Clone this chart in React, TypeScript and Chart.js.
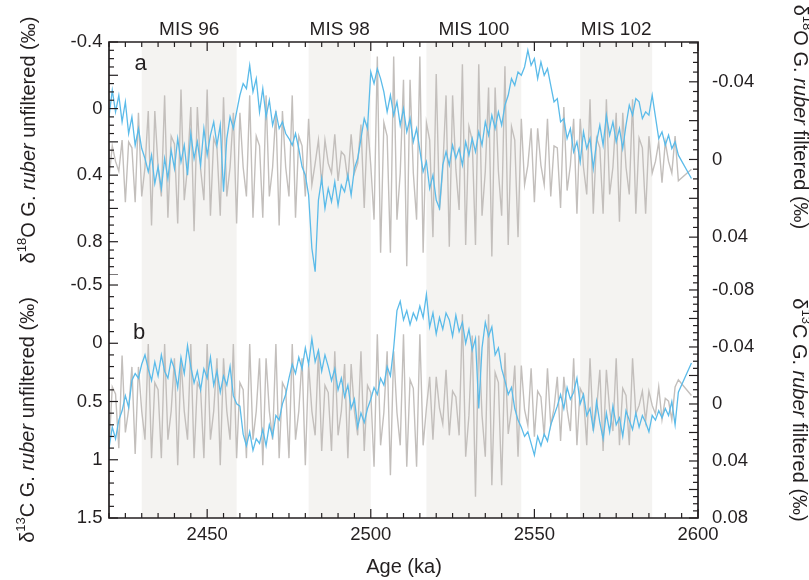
import React, { useEffect, useRef } from "react";
import { Chart, registerables } from "chart.js";

Chart.register(...registerables);

// ---------------- data ----------------
const AGE_KA = [
  2420, 2421, 2422, 2423, 2424, 2425, 2426, 2427, 2428, 2429,
  2430, 2431, 2432, 2433, 2434, 2435, 2436, 2437, 2438, 2439,
  2440, 2441, 2442, 2443, 2444, 2445, 2446, 2447, 2448, 2449,
  2450, 2451, 2452, 2453, 2454, 2455, 2456, 2457, 2458, 2459,
  2460, 2461, 2462, 2463, 2464, 2465, 2466, 2467, 2468, 2469,
  2470, 2471, 2472, 2473, 2474, 2475, 2476, 2477, 2478, 2479,
  2480, 2481, 2482, 2483, 2484, 2485, 2486, 2487, 2488, 2489,
  2490, 2491, 2492, 2493, 2494, 2495, 2496, 2497, 2498, 2499,
  2500, 2501, 2502, 2503, 2504, 2505, 2506, 2507, 2508, 2509,
  2510, 2511, 2512, 2513, 2514, 2515, 2516, 2517, 2518, 2519,
  2520, 2521, 2522, 2523, 2524, 2525, 2526, 2527, 2528, 2529,
  2530, 2531, 2532, 2533, 2534, 2535, 2536, 2537, 2538, 2539,
  2540, 2541, 2542, 2543, 2544, 2545, 2546, 2547, 2548, 2549,
  2550, 2551, 2552, 2553, 2554, 2555, 2556, 2557, 2558, 2559,
  2560, 2561, 2562, 2563, 2564, 2565, 2566, 2567, 2568, 2569,
  2570, 2571, 2572, 2573, 2574, 2575, 2576, 2577, 2578, 2579,
  2580, 2581, 2582, 2583, 2584, 2585, 2586, 2587, 2588, 2589,
  2590, 2591, 2592, 2593, 2594,
  2598,
];

// δ18O G. ruber unfiltered (‰)
const D18O_UNFILTERED = [
  0.05, -0.11, 0.02, -0.08, 0.08, -0.04, 0.15, 0.05, 0.22, 0.12,
  0.24, 0.3, 0.38, 0.28, 0.45, 0.35, 0.48, 0.3, 0.42, 0.25,
  0.36, 0.18, 0.32, 0.22, 0.4, 0.15, 0.3, 0.2, 0.34, 0.12,
  0.28, 0.16, 0.08, 0.22, 0.1, 0.5, 0.18, 0.05, 0.12, 0.02,
  -0.08, -0.15, -0.12, -0.26, -0.1, -0.18, 0.02, -0.12, 0.05, -0.05,
  0.1, 0.02, 0.12, 0.08, 0.15, 0.18, 0.22, 0.15, 0.24, 0.35,
  0.4, 0.52, 0.84, 0.98, 0.55, 0.42, 0.6, 0.48, 0.56, 0.44,
  0.58, 0.46, 0.5, 0.4, 0.52, 0.36, 0.3, 0.18, 0.06, 0.12,
  -0.22, -0.15, -0.24, -0.18, -0.1, 0.02, -0.08, 0.04, -0.04, 0.1,
  0.0, 0.14, 0.06, 0.2, 0.12, 0.25, 0.38, 0.32, 0.48, 0.4,
  0.55, 0.6, 0.34, 0.26, 0.34, 0.22, 0.3, 0.24, 0.34, 0.2,
  0.28, 0.18, 0.26, 0.14, 0.22, 0.08, 0.16, 0.04, 0.12, 0.02,
  0.1, -0.02, -0.08, -0.18, -0.14, -0.22, -0.2, -0.25, -0.35, -0.26,
  -0.3, -0.18, -0.28, -0.2, -0.24, -0.14, -0.04, -0.06, 0.08, 0.06,
  0.18, 0.12, 0.26, 0.2, 0.32, 0.14, 0.24, 0.18, 0.36, 0.2,
  0.1, 0.22, 0.04, 0.16, 0.08, 0.2, 0.12, 0.24, 0.1, -0.02,
  0.04, -0.06, -0.04, 0.06, 0.02, 0.04, -0.08, 0.05, 0.18, 0.14,
  0.22, 0.16, 0.24, 0.2, 0.28,
  0.42,
];

// δ18O G. ruber filtered (‰)
const D18O_FILTERED = [
  0.01, -0.007, 0.001, 0.006, -0.01, 0.022, -0.009, -0.006, 0.022, -0.024,
  0.019, 0.004, -0.025, 0.034, -0.025, 0.004, 0.019, -0.033, 0.03, -0.012,
  -0.008, 0.033, -0.036, 0.021, 0.004, -0.027, 0.037, -0.027, 0.005, 0.021,
  -0.036, 0.029, -0.011, -0.006, 0.029, -0.032, 0.019, 0.004, -0.024, 0.033,
  -0.024, 0.004, 0.019, -0.033, 0.03, -0.012, -0.007, 0.03, -0.033, 0.019,
  0.004, -0.025, 0.034, -0.025, 0.004, 0.019, -0.033, 0.03, -0.012, -0.007,
  0.019, -0.021, 0.013, 0.002, -0.01, 0.013, -0.01, 0.002, 0.007, -0.013,
  0.011, -0.004, -0.002, 0.011, -0.013, 0.007, 0.002, -0.018, 0.025, -0.019,
  0.003, 0.031, -0.053, 0.048, -0.019, -0.012, 0.048, -0.053, 0.031, 0.007,
  -0.041, 0.055, -0.041, 0.007, 0.031, -0.053, 0.048, -0.019, -0.01, 0.04,
  -0.044, 0.026, 0.005, -0.033, 0.045, -0.033, 0.005, 0.026, -0.049, 0.044,
  -0.017, -0.01, 0.044, -0.049, 0.029, 0.006, -0.037, 0.05, -0.037, 0.006,
  0.029, -0.048, 0.044, -0.017, -0.01, 0.04, -0.021, 0.013, 0.003, -0.016,
  0.022, -0.016, 0.003, 0.013, -0.021, 0.019, -0.007, -0.006, 0.025, -0.027,
  0.016, 0.003, -0.021, 0.028, -0.021, 0.004, 0.018, -0.031, 0.028, -0.011,
  -0.006, 0.028, -0.031, 0.018, 0.004, -0.024, 0.032, -0.024, 0.004, 0.018,
  -0.031, 0.028, -0.011, -0.006, 0.028, -0.012, 0.007, 0.001, -0.009, 0.012,
  -0.009, 0.001, 0.007, -0.012, 0.011,
  0.005,
];

// δ13C G. ruber unfiltered (‰)
const D13C_UNFILTERED = [
  0.9, 0.72, 0.82, 0.66, 0.58, 0.45, 0.55, 0.32, 0.26, 0.3,
  0.18, 0.1, 0.22, 0.32, 0.16, 0.28, 0.1, 0.24, 0.3, 0.14,
  0.22, 0.38, 0.12, 0.26, 0.02, 0.2, 0.34, 0.24, 0.4, 0.22,
  0.3, 0.12, 0.36, 0.24, 0.42, 0.28, 0.36, 0.2, 0.45, 0.52,
  0.54, 0.78, 0.88, 0.76, 0.92, 0.82, 0.86, 0.74, 0.88, 0.7,
  0.8, 0.62, 0.66, 0.52, 0.44, 0.3, 0.18, 0.26, 0.12, 0.22,
  0.04, 0.18, -0.04, 0.16, 0.06, 0.24, 0.1, 0.2, 0.32, 0.22,
  0.4, 0.3, 0.46, 0.36, 0.56, 0.48, 0.72, 0.6, 0.68, 0.56,
  0.48, 0.38, 0.44, 0.3, 0.36, 0.2, 0.28, 0.04, -0.28, -0.36,
  -0.2, -0.28, -0.16, -0.26, -0.2, -0.32, -0.22, -0.42, -0.14, -0.26,
  -0.08, -0.22, -0.12, -0.26, -0.2, -0.06, -0.24, -0.1, -0.18, 0.0,
  -0.12, 0.06, -0.04, 0.56, 0.04, -0.18, -0.06, -0.14, 0.1, 0.04,
  0.22, 0.32, 0.44, 0.38, 0.56, 0.66, 0.72, 0.8, 0.76, 0.86,
  0.96, 0.8, 0.88, 0.78, 0.84, 0.7, 0.62, 0.54, 0.44, 0.56,
  0.38, 0.48, 0.42, 0.3, 0.52, 0.44, 0.62, 0.56, 0.74, 0.5,
  0.68, 0.82, 0.6, 0.76, 0.54, 0.7, 0.64, 0.8, 0.58, 0.66,
  0.74, 0.6, 0.72, 0.62, 0.68, 0.76, 0.62, 0.66, 0.58, 0.64,
  0.56, 0.62, 0.5, 0.7, 0.42,
  0.17,
];

// δ13C G. ruber filtered (‰)
const D13C_FILTERED = [
  0.031, -0.012, -0.007, 0.031, -0.034, 0.02, 0.004, -0.026, 0.035, -0.026,
  0.005, 0.025, -0.042, 0.038, -0.015, -0.01, 0.038, -0.042, 0.025, 0.005,
  -0.032, 0.043, -0.032, 0.005, 0.025, -0.042, 0.038, -0.015, -0.01, 0.038,
  -0.042, 0.025, 0.005, -0.032, 0.043, -0.032, 0.005, 0.025, -0.042, 0.038,
  -0.015, -0.01, 0.038, -0.042, 0.025, 0.005, -0.032, 0.043, -0.032, 0.005,
  0.025, -0.042, 0.038, -0.015, -0.01, 0.038, -0.042, 0.025, 0.005, -0.032,
  0.043, -0.028, 0.005, 0.022, -0.037, 0.033, -0.013, -0.008, 0.033, -0.037,
  0.022, 0.005, -0.028, 0.038, -0.028, 0.005, 0.022, -0.037, 0.033, -0.013,
  -0.008, 0.044, -0.049, 0.029, 0.006, -0.037, 0.05, -0.037, 0.006, 0.029,
  -0.049, 0.044, -0.017, -0.011, 0.044, -0.049, 0.029, 0.003, -0.019, 0.025,
  -0.019, 0.003, 0.014, -0.024, 0.022, -0.009, -0.005, 0.022, -0.063, 0.037,
  0.008, -0.048, 0.065, -0.048, 0.008, 0.037, -0.063, 0.057, -0.022, -0.015,
  0.057, -0.036, 0.021, 0.004, -0.027, 0.037, -0.027, 0.004, 0.015, -0.025,
  0.023, -0.009, -0.005, 0.023, -0.025, 0.015, 0.003, -0.019, 0.026, -0.019,
  0.004, 0.019, -0.032, 0.029, -0.011, -0.006, 0.029, -0.032, 0.019, 0.004,
  -0.024, 0.033, -0.024, 0.004, 0.019, -0.032, 0.029, -0.011, -0.006, 0.029,
  -0.032, 0.007, 0.001, -0.009, 0.012, -0.009, 0.001, 0.007, -0.012, 0.011,
  -0.004, -0.002, 0.011, -0.012, -0.017,
  -0.006,
];

// Marine isotope stage bands (ka)
const MIS_NAMES = ["MIS 96", "MIS 98", "MIS 100", "MIS 102"];
const MIS_START = [2430, 2481, 2517, 2564];
const MIS_END = [2459, 2500, 2546, 2586];

// axis ranges and tick labels
const AGE_MIN = 2420;
const AGE_MAX = 2600;
const AGE_TICKS = [2450, 2500, 2550, 2600];
const D18O_U_RANGE = [-0.4, 1.0];
const D18O_U_TICKS = [-0.4, 0, 0.4, 0.8];
const D18O_F_RANGE = [-0.0605, 0.0595];
const D18O_F_TICKS = [-0.04, 0, 0.04];
const D13C_U_RANGE = [-0.586, 1.5];
const D13C_U_TICKS = [-0.5, 0, 0.5, 1, 1.5];
const D13C_F_RANGE = [-0.0905, 0.08];
const D13C_F_TICKS = [-0.08, -0.04, 0, 0.04, 0.08];

// ---------------- style ----------------
const FONT = '"Liberation Sans", Arial, Helvetica, sans-serif';
const INK = "#231f20";
const BLUE = "#5bbbe9";
const GRAY = "#c3bfbc";
const BAND = "#f4f3f1";
const TICK_FONT = 18.5;
const TITLE_FONT = 20;

type Seg = { t: string; style?: string; size?: number; dy?: number };

function titleSegs(iso: string, elem: string, kind: string): Seg[] {
  return [
    { t: "δ" },
    { t: iso, size: 13, dy: -7 },
    { t: elem + " G. " },
    { t: "ruber", style: "italic" },
    { t: " " + kind + " (‰)" },
  ];
}

function drawRich(ctx: CanvasRenderingContext2D, segs: Seg[], cx: number, cy: number, angle: number) {
  ctx.save();
  ctx.translate(cx, cy);
  ctx.rotate(angle);
  ctx.fillStyle = INK;
  ctx.textBaseline = "middle";
  ctx.textAlign = "left";
  const fontOf = (s: Seg) => `${s.style || "normal"} ${s.size || TITLE_FONT}px ${FONT}`;
  let total = 0;
  for (const s of segs) {
    ctx.font = fontOf(s);
    total += ctx.measureText(s.t).width;
  }
  let x = -total / 2;
  for (const s of segs) {
    ctx.font = fontOf(s);
    ctx.fillText(s.t, x, s.dy || 0);
    x += ctx.measureText(s.t).width;
  }
  ctx.restore();
}

type TickSpec = { id: string; side: "left" | "right" | "top" | "bottom"; step: number; major: number };

function drawAxisTicks(chart: any, specs: TickSpec[]) {
  const ctx = chart.ctx as CanvasRenderingContext2D;
  const a = chart.chartArea;
  ctx.save();
  ctx.strokeStyle = INK;
  ctx.lineWidth = 1.2;
  for (const sp of specs) {
    const sc = chart.scales[sp.id];
    const lo = Math.min(sc.min, sc.max);
    const hi = Math.max(sc.min, sc.max);
    const k0 = Math.ceil(lo / sp.step - 1e-6);
    const k1 = Math.floor(hi / sp.step + 1e-6);
    for (let k = k0; k <= k1; k++) {
      const p = sc.getPixelForValue(k * sp.step);
      const isMajor = ((k % sp.major) + sp.major) % sp.major === 0;
      const len = isMajor ? 9 : 5;
      ctx.beginPath();
      if (sp.side === "left") {
        ctx.moveTo(a.left, p);
        ctx.lineTo(a.left + len, p);
      } else if (sp.side === "right") {
        ctx.moveTo(a.right, p);
        ctx.lineTo(a.right - len, p);
      } else if (sp.side === "top") {
        ctx.moveTo(p, a.top);
        ctx.lineTo(p, a.top + len);
      } else {
        ctx.moveTo(p, a.bottom);
        ctx.lineTo(p, a.bottom - len);
      }
      ctx.stroke();
    }
  }
  ctx.lineWidth = 1.7;
  ctx.lineCap = "square";
  ctx.beginPath();
  ctx.moveTo(a.left, a.top);
  ctx.lineTo(a.left, a.bottom);
  ctx.moveTo(a.right, a.top);
  ctx.lineTo(a.right, a.bottom);
  if (specs.some((s) => s.side === "top")) {
    ctx.moveTo(a.left, a.top);
    ctx.lineTo(a.right, a.top);
  }
  if (specs.some((s) => s.side === "bottom")) {
    ctx.moveTo(a.left, a.bottom);
    ctx.lineTo(a.right, a.bottom);
  }
  ctx.stroke();
  ctx.restore();
}

function bandsPlugin(id: string) {
  return {
    id,
    beforeDatasetsDraw(chart: any) {
      const { ctx, chartArea: a } = chart;
      const x = chart.scales.x;
      ctx.save();
      ctx.fillStyle = BAND;
      for (let i = 0; i < MIS_START.length; i++) {
        const x0 = x.getPixelForValue(MIS_START[i]);
        const x1 = x.getPixelForValue(MIS_END[i]);
        ctx.fillRect(x0, a.top, x1 - x0, a.bottom - a.top);
      }
      ctx.restore();
    },
  };
}

function yAxis(position: string, range: number[], ticks: number[], width: number, padding: number) {
  return {
    type: "linear",
    position,
    reverse: true,
    min: range[0],
    max: range[1],
    afterBuildTicks: (s: any) => {
      s.ticks = ticks.map((v) => ({ value: v }));
    },
    ticks: {
      font: { family: FONT, size: TICK_FONT },
      color: INK,
      padding,
      callback: (v: any) => String(v),
    },
    grid: { drawOnChartArea: false, drawTicks: false },
    border: { display: false },
    afterFit: (s: any) => {
      s.width = width;
      s.paddingTop = 0;
      s.paddingBottom = 0;
    },
  };
}

function pts(values: number[]) {
  return AGE_KA.map((a, i) => ({ x: a, y: values[i] }));
}

function lineDs(values: number[], color: string, axis: string, width: number) {
  return {
    data: pts(values),
    borderColor: color,
    borderWidth: width,
    pointRadius: 0,
    tension: 0,
    fill: false,
    yAxisID: axis,
  };
}

const LEFT_W = 109;
const RIGHT_W = 111;

function topConfig(): any {
  return {
    type: "line",
    data: {
      datasets: [
        lineDs(D18O_UNFILTERED, BLUE, "yL", 1.3),
        lineDs(D18O_FILTERED, GRAY, "yR", 1.4),
      ],
    },
    options: {
      responsive: false,
      animation: false,
      layout: { padding: { top: 42, bottom: 0, left: 0, right: 0 } },
      plugins: { legend: { display: false }, tooltip: { enabled: false } },
      scales: {
        x: { type: "linear", min: AGE_MIN, max: AGE_MAX, display: false },
        yL: yAxis("left", D18O_U_RANGE, D18O_U_TICKS, LEFT_W, 6.5),
        yR: yAxis("right", D18O_F_RANGE, D18O_F_TICKS, RIGHT_W, 14),
      },
    },
    plugins: [
      bandsPlugin("bandsTop"),
      {
        id: "decorTop",
        afterDatasetsDraw(chart: any) {
          drawAxisTicks(chart, [
            { id: "x", side: "top", step: 5, major: 10 },
            { id: "yL", side: "left", step: 0.05, major: 4 },
            { id: "yR", side: "right", step: 0.005, major: 4 },
          ]);
          const ctx = chart.ctx as CanvasRenderingContext2D;
          const x = chart.scales.x;
          ctx.save();
          ctx.fillStyle = INK;
          ctx.textAlign = "center";
          ctx.textBaseline = "middle";
          ctx.font = `19px ${FONT}`;
          for (let i = 0; i < MIS_NAMES.length; i++) {
            const cx = (x.getPixelForValue(MIS_START[i]) + x.getPixelForValue(MIS_END[i])) / 2;
            ctx.fillText(MIS_NAMES[i], cx, 30);
          }
          ctx.font = `22px ${FONT}`;
          ctx.fillText("a", 140.5, 64);
          ctx.restore();
          drawRich(ctx, titleSegs("18", "O", "unfiltered"), 29, 140, -Math.PI / 2);
          drawRich(ctx, titleSegs("18", "O", "filtered"), 800, 117, Math.PI / 2);
        },
      },
    ],
  };
}

function bottomConfig(): any {
  return {
    type: "line",
    data: {
      datasets: [
        lineDs(D13C_UNFILTERED, BLUE, "yL", 1.3),
        lineDs(D13C_FILTERED, GRAY, "yR", 1.4),
      ],
    },
    options: {
      responsive: false,
      animation: false,
      layout: { padding: { top: 0, bottom: 0, left: 0, right: 0 } },
      plugins: { legend: { display: false }, tooltip: { enabled: false } },
      scales: {
        x: {
          type: "linear",
          position: "bottom",
          min: AGE_MIN,
          max: AGE_MAX,
          afterBuildTicks: (s: any) => {
            s.ticks = AGE_TICKS.map((v) => ({ value: v }));
          },
          ticks: {
            font: { family: FONT, size: TICK_FONT },
            color: INK,
            padding: 6,
            maxRotation: 0,
            autoSkip: false,
            callback: (v: any) => String(v),
          },
          grid: { drawOnChartArea: false, drawTicks: false },
          border: { display: false },
          afterFit: (s: any) => {
            s.height = 62;
            s.paddingLeft = 0;
            s.paddingRight = 0;
          },
        },
        yL: yAxis("left", D13C_U_RANGE, D13C_U_TICKS, LEFT_W, 6.5),
        yR: yAxis("right", D13C_F_RANGE, D13C_F_TICKS, RIGHT_W, 14),
      },
    },
    plugins: [
      bandsPlugin("bandsBottom"),
      {
        id: "decorBottom",
        afterDatasetsDraw(chart: any) {
          drawAxisTicks(chart, [
            { id: "x", side: "bottom", step: 5, major: 10 },
            { id: "yL", side: "left", step: 0.1, major: 5 },
            { id: "yR", side: "right", step: 0.005, major: 4 },
          ]);
          const ctx = chart.ctx as CanvasRenderingContext2D;
          ctx.save();
          ctx.fillStyle = INK;
          ctx.textAlign = "center";
          ctx.textBaseline = "middle";
          ctx.font = `22px ${FONT}`;
          ctx.fillText("b", 139, 333 - 275);
          ctx.font = `${TITLE_FONT}px ${FONT}`;
          ctx.fillText("Age (ka)", 404, 567 - 275);
          ctx.restore();
          drawRich(ctx, titleSegs("13", "C", "unfiltered"), 28, 420 - 275, -Math.PI / 2);
          drawRich(ctx, titleSegs("13", "C", "filtered"), 799, 410 - 275, Math.PI / 2);
        },
      },
    ],
  };
}

export default function App() {
  const topRef = useRef<HTMLCanvasElement>(null);
  const botRef = useRef<HTMLCanvasElement>(null);

  useEffect(() => {
    const c1 = new Chart(topRef.current as HTMLCanvasElement, topConfig());
    const c2 = new Chart(botRef.current as HTMLCanvasElement, bottomConfig());
    return () => {
      c1.destroy();
      c2.destroy();
    };
  }, []);

  return (
    <div style={{ position: "absolute", left: 0, top: 0, width: 809, height: 580, background: "#fff", overflow: "hidden" }}>
      <canvas
        ref={topRef}
        width={809}
        height={275}
        style={{ position: "absolute", left: 0, top: 0, width: 809, height: 275 }}
      />
      <canvas
        ref={botRef}
        width={809}
        height={305}
        style={{ position: "absolute", left: 0, top: 275, width: 809, height: 305 }}
      />
    </div>
  );
}
